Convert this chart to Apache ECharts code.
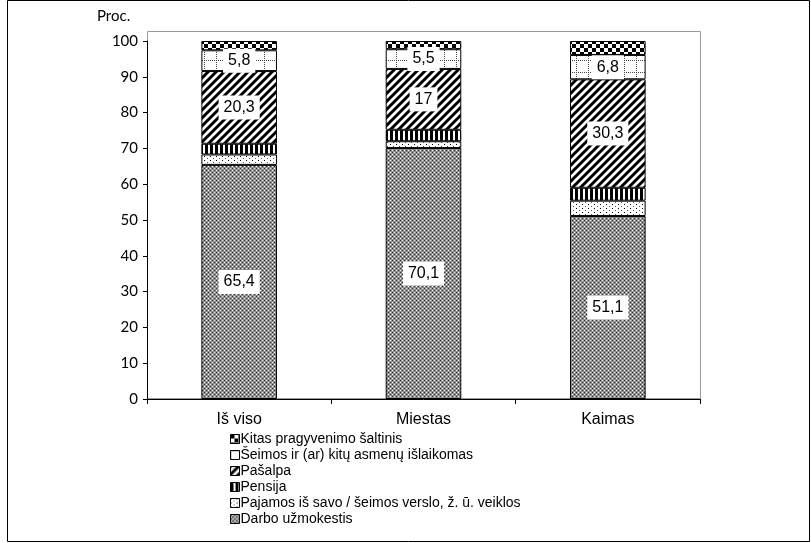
<!DOCTYPE html>
<html>
<head>
<meta charset="utf-8">
<script src="https://cdn.jsdelivr.net/npm/echarts@6/dist/echarts.min.js"></script>
<style>
  html, body { margin: 0; padding: 0; background: #fff; }
  #chart { width: 811px; height: 543px; }
</style>
</head>
<body>
<div id="chart"></div>
<script>
// duomenys
const categories = ['Iš viso', 'Miestas', 'Kaimas'];
const darbo = [65.4, 70.1, 51.1];
const pajamos = [2.9, 1.9, 4.3];
const pensija = [3.0, 3.2, 3.6];
const pasalpa = [20.3, 17, 30.3];
const seimos = [5.8, 5.5, 6.8];
const kitas = [2.6, 2.3, 3.9];
const yTicks = [0, 10, 20, 30, 40, 50, 60, 70, 80, 90, 100];

const ARIAL = '"Liberation Sans", Arial, sans-serif';
const CALIBRI = 'Lato, "Open Sans", sans-serif';

// uzpildu rastai (kaip Excel)
function tile(w, h, draw) {
  const c = document.createElement('canvas');
  c.width = w; c.height = h;
  const ctx = c.getContext('2d');
  ctx.fillStyle = '#fff';
  ctx.fillRect(0, 0, w, h);
  draw(ctx);
  return { image: c, repeat: 'repeat' };
}
function px(ctx, x, y, col) { ctx.fillStyle = col; ctx.fillRect(x, y, 1, 1); }

const fillDarbo = tile(4, 4, ctx => {
  ctx.fillStyle = '#8e8e8e'; ctx.fillRect(0, 0, 4, 4);
  px(ctx, 0, 0, '#333'); px(ctx, 2, 2, '#333');
  px(ctx, 2, 0, '#fff'); px(ctx, 0, 2, '#fff');
});
const fillPajamos = tile(6, 4, ctx => {
  px(ctx, 0, 0, '#000'); px(ctx, 3, 2, '#555');
});
const fillPensija = tile(5, 4, ctx => {
  ctx.fillStyle = '#000'; ctx.fillRect(0, 0, 3, 4);
});
const fillPasalpa = tile(8, 8, ctx => {
  ctx.strokeStyle = '#000'; ctx.lineWidth = 3;
  ctx.beginPath();
  ctx.moveTo(-2, 10); ctx.lineTo(10, -2);
  ctx.moveTo(-6, 6); ctx.lineTo(6, -6);
  ctx.moveTo(2, 14); ctx.lineTo(14, 2);
  ctx.stroke();
});
const fillSeimos = tile(12, 12, ctx => {
  for (let i = 0; i < 12; i += 2) { px(ctx, i, 0, '#444'); px(ctx, 0, i, '#444'); }
});
const fillKitas = tile(8, 8, ctx => {
  ctx.fillStyle = '#000'; ctx.fillRect(0, 0, 4, 4); ctx.fillRect(4, 4, 4, 4);
});

const fmt = p => String(p.value).replace('.', ',');
function makeSeries(name, data, fill, showLabel) {
  return {
    name: name,
    type: 'bar',
    stack: 'total',
    barWidth: '41%',
    data: data,
    itemStyle: { color: fill, borderColor: '#000', borderWidth: 1 },
    label: {
      show: showLabel,
      position: 'inside',
      formatter: fmt,
      backgroundColor: '#fff',
      padding: [4, 5],
      color: '#000',
      fontSize: 16,
      fontFamily: ARIAL
    },
    emphasis: { disabled: true }
  };
}

const chart = echarts.init(document.getElementById('chart'));
chart.setOption({
  animation: false,
  grid: { left: 147, right: 111, top: 41, bottom: 144 },
  graphic: [
    { type: 'rect', shape: { x: 7.5, y: 0.5, width: 802, height: 541 }, style: { fill: 'none', stroke: '#000', lineWidth: 1 } },
    { type: 'rect', shape: { x: 147.5, y: 31.5, width: 553, height: 367 }, style: { fill: 'none', stroke: '#999', lineWidth: 1 } },
    { type: 'text', left: 97, top: 9, style: { text: 'Proc.', fontSize: 15, fontFamily: CALIBRI, fill: '#000' } }
  ],
  legend: {
    orient: 'vertical',
    left: 225,
    top: 426,
    icon: 'rect',
    itemWidth: 9,
    itemHeight: 9,
    itemGap: 0,
    selectedMode: false,
    data: ['Kitas pragyvenimo šaltinis', 'Šeimos ir (ar) kitų asmenų išlaikomas', 'Pašalpa', 'Pensija',
           'Pajamos iš savo / šeimos verslo, ž. ū. veiklos', 'Darbo užmokestis'],
    itemStyle: { borderColor: '#000', borderWidth: 1 },
    textStyle: { fontSize: 14, lineHeight: 16, fontFamily: ARIAL, color: '#000', padding: [0, 0, 0, -4] }
  },
  xAxis: {
    type: 'category',
    data: categories,
    axisLine: { lineStyle: { color: '#000', width: 1 } },
    axisTick: { show: true, inside: false, length: 5, lineStyle: { color: '#000' } },
    axisLabel: { fontSize: 16, fontFamily: ARIAL, color: '#000', margin: 13 }
  },
  yAxis: {
    type: 'value',
    min: 0,
    max: 100,
    interval: 10,
    axisLine: { show: true, lineStyle: { color: '#000', width: 1 } },
    axisTick: { show: true, length: 4, lineStyle: { color: '#000' } },
    splitLine: { show: false },
    axisLabel: {
      fontSize: 15, fontFamily: CALIBRI, color: '#000', margin: 9,
      formatter: v => yTicks.indexOf(v) >= 0 ? String(v) : ''
    }
  },
  series: [
    makeSeries('Darbo užmokestis', darbo, fillDarbo, true),
    makeSeries('Pajamos iš savo / šeimos verslo, ž. ū. veiklos', pajamos, fillPajamos, false),
    makeSeries('Pensija', pensija, fillPensija, false),
    makeSeries('Pašalpa', pasalpa, fillPasalpa, true),
    makeSeries('Šeimos ir (ar) kitų asmenų išlaikomas', seimos, fillSeimos, true),
    makeSeries('Kitas pragyvenimo šaltinis', kitas, fillKitas, false)
  ]
});
</script>
</body>
</html>
